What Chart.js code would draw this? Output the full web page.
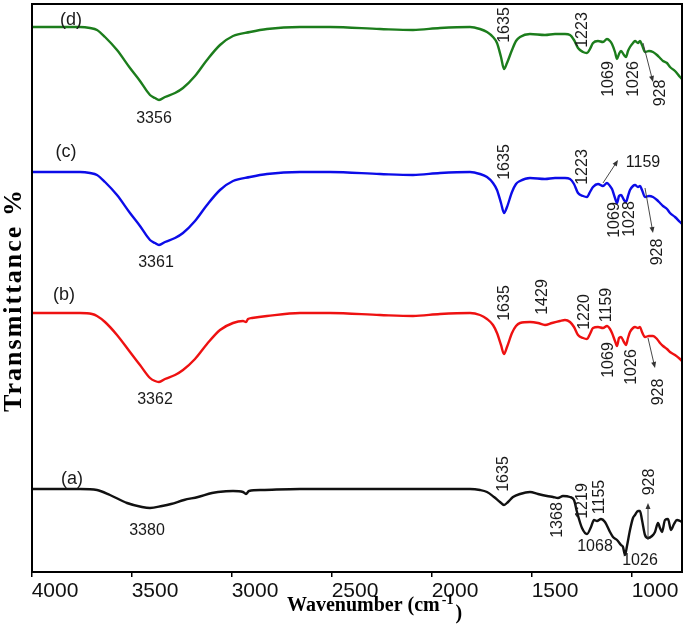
<!DOCTYPE html>
<html><head><meta charset="utf-8">
<script src="https://cdn.jsdelivr.net/npm/chart.js@4/dist/chart.umd.min.js"></script>
<style>html,body{margin:0;padding:0;background:#fff;}#wrap{width:685px;height:626px;}</style>
</head><body><div id="wrap"><canvas id="c" width="685" height="626"></canvas></div>
<script>
// ---- Data (arbitrary transmittance units, curves offset for display) ----
const tickValues = [4000, 3500, 3000, 2500, 2000, 1500, 1000];

const wnUpper = [4000,3860,3760,3710,3675,3635,3575,3510,3460,3410,3385,3365,3335,3285,3245,3185,3125,3060,2995,2910,2825,2660,2510,2260,2095,1960,1810,1760,1725,1695,1675,1655,1640,1625,1600,1580,1560,1510,1435,1385,1335,1310,1290,1270,1245,1225,1210,1195,1170,1145,1125,1110,1100,1085,1075,1065,1055,1040,1030,1020,1010,995,985,970,960,950,935,915,895,875,860,845,825,810,785,760,750];

const transD = [545,545,545,544,542,535,522,504,491,477,474,472,475,479,484,496,512,527,536,540,543,545,545,543,542,544,545,543,540,535,529,515,503,509,522,531,535,538,537,538,538,537,532,524,520,519,523,529,531,530,533,531,528,520,513,518,521,517,515,521,525,529,531,529,531,527,520,521,520,517,514,511,509,505,501,495,493];

const transC = [400,400,400,399,397,390,377,359,346,332,329,327,330,334,339,351,367,382,391,395,398,400,400,398,397,399,400,398,395,389,382,369,359,365,380,388,391,394,393,394,394,393,388,379,376,375,380,385,388,386,389,386,383,374,369,376,377,372,370,376,382,386,387,385,386,382,375,376,375,372,369,366,363,359,355,350,348];

const wnB = [4000,3860,3760,3700,3675,3635,3575,3510,3460,3410,3385,3365,3335,3285,3245,3185,3125,3060,2995,2945,2930,2920,2900,2825,2660,2510,2260,2095,1960,1810,1760,1725,1695,1675,1655,1640,1625,1600,1580,1560,1510,1470,1435,1400,1360,1335,1310,1290,1270,1245,1225,1210,1195,1170,1145,1125,1110,1100,1085,1075,1065,1055,1040,1030,1020,1010,995,985,970,960,950,935,915,895,875,860,845,825,810,785,760,750];
const transB = [259,259,259,258,256,250,237,220,207,194,191,190,193,197,202,213,228,242,249,251,250,253,254,256,259,259,257,256,258,259,257,253,247,239,227,218,225,239,246,249,250,249,247,249,251,252,250,245,237,234,233,238,244,245,244,246,243,239,231,226,234,235,230,227,234,240,244,245,244,245,240,235,236,236,233,229,226,223,220,217,213,211];

const wnA = [4000,3860,3760,3675,3610,3525,3450,3410,3350,3305,3240,3170,3100,3070,2995,2945,2930,2915,2850,2660,2510,2200,1810,1760,1725,1690,1660,1640,1620,1595,1560,1510,1470,1425,1395,1370,1345,1310,1290,1275,1250,1225,1205,1190,1175,1155,1135,1110,1095,1075,1055,1045,1035,1025,1010,995,985,970,960,950,935,920,900,885,870,860,850,835,820,805,790,775,760,750];
const transA = [83,83,83,82,77,69,65,64,66,68,72,75,79,80,81,80,78,81,82,83,83,83,83,82,80,75,70,67,70,75,78,80,78,76,75,74,76,75,72,60,44,38,45,52,51,53,50,40,35,32,27,25,17,26,42,54,57,61,61,52,37,34,36,40,49,44,40,52,53,42,48,52,51,50];

const seriesNames = ['(a)', '(b)', '(c)', '(d)'];
const seriesColors = ['#111111', '#ee1111', '#0c0ce8', '#1c7d1c'];

// peak annotations: [text, wavenumber, transmittance, rotated]
const peakLabels = [
  ['(d)',3805,552,false],['3356',3390,453,false],['1635',1635,547,true],['1223',1245,542,true],
  ['1069',1115,493,true],['1026',990,493,true],['928',855,479,true],
  ['(c)',3830,420,false],['3361',3380,309,false],['1635',1635,410,true],['1223',1245,405,true],
  ['1159',945,409,false],['1069',1085,352,true],['1028',1010,353,true],['928',870,320,true],
  ['(b)',3840,277,false],['3362',3385,172,false],['1635',1635,269,true],['1429',1445,275,true],
  ['1220',1235,260,true],['1159',1125,267,true],['1069',1115,212,true],['1026',1000,205,true],['928',865,180,true],
  ['(a)',3800,93,false],['3380',3425,41,false],['1635',1640,98,true],['1368',1370,52,true],
  ['1219',1245,71,true],['1155',1160,75,true],['1068',1185,25,false],['1026',960,11,false],['928',910,90,true]
];
// arrows: [fromWn, fromT, toWn, toT]
const arrows = [
  [945,529,895,490],
  [1145,389,1070,412],
  [935,384,895,339],
  [920,234,885,204],
  [920,32,920,69]
];

const series = [
  {name: seriesNames[3], x: wnUpper, y: transD, color: seriesColors[3]},
  {name: seriesNames[2], x: wnUpper, y: transC, color: seriesColors[2]},
  {name: seriesNames[1], x: wnB, y: transB, color: seriesColors[1]},
  {name: seriesNames[0], x: wnA, y: transA, color: seriesColors[0]}
];

const datasets = series.map(s => ({
  label: s.name,
  data: s.x.map((w, i) => ({x: w, y: s.y[i]})),
  borderColor: s.color,
  borderWidth: 2.4,
  pointRadius: 0,
  fill: false,
  cubicInterpolationMode: 'monotone'
}));

const decorPlugin = {
  id: 'decor',
  afterDatasetsDraw(chart) {
    const ctx = chart.ctx, xs = chart.scales.x, ys = chart.scales.y, a = chart.chartArea;
    ctx.save();
    // frame
    ctx.strokeStyle = '#000'; ctx.lineWidth = 2;
    ctx.strokeRect(a.left, a.top, a.right - a.left, a.bottom - a.top);
    // peak labels
    ctx.fillStyle = '#1a1a1a';
    ctx.textAlign = 'center'; ctx.textBaseline = 'middle';
    peakLabels.forEach(([t, w, v, rot]) => {
      const px = xs.getPixelForValue(w), py = ys.getPixelForValue(v);
      const isName = t.startsWith('(');
      ctx.font = (isName ? '18px' : '16px') + ' "Liberation Sans", Arial, sans-serif';
      ctx.save();
      ctx.translate(px, py);
      if (rot) ctx.rotate(-Math.PI / 2);
      ctx.fillText(t, 0, 0);
      ctx.restore();
    });
    // arrows
    ctx.strokeStyle = '#333'; ctx.fillStyle = '#333'; ctx.lineWidth = 0.9;
    arrows.forEach(([w1, v1, w2, v2]) => {
      const x1 = xs.getPixelForValue(w1), y1 = ys.getPixelForValue(v1);
      const x2 = xs.getPixelForValue(w2), y2 = ys.getPixelForValue(v2);
      const ang = Math.atan2(y2 - y1, x2 - x1), L = 6, W = 2.5;
      ctx.beginPath(); ctx.moveTo(x1, y1); ctx.lineTo(x2 - Math.cos(ang) * L * 0.7, y2 - Math.sin(ang) * L * 0.7); ctx.stroke();
      ctx.beginPath();
      ctx.moveTo(x2, y2);
      ctx.lineTo(x2 - Math.cos(ang) * L - Math.sin(ang) * W, y2 - Math.sin(ang) * L + Math.cos(ang) * W);
      ctx.lineTo(x2 - Math.cos(ang) * L + Math.sin(ang) * W, y2 - Math.sin(ang) * L - Math.cos(ang) * W);
      ctx.closePath(); ctx.fill();
    });
    // x title with superscript
    ctx.fillStyle = '#000';
    ctx.textAlign = 'left'; ctx.textBaseline = 'alphabetic';
    const f1 = 'bold 20px "Liberation Serif", "Times New Roman", serif';
    const f2 = 'bold 14px "Liberation Serif", "Times New Roman", serif';
    const t1 = 'Wavenumber (cm', t2 = '-1', t3 = ')';
    ctx.font = f1; const w1 = ctx.measureText(t1).width;
    ctx.font = f2; const w2 = ctx.measureText(t2).width;
    let x0 = a.left + 255;
    ctx.font = f1; ctx.fillText(t1, x0, 611);
    ctx.font = f2; ctx.fillText(t2, x0 + w1 + 2, 604);
    ctx.font = f1; ctx.fillText(t3, x0 + w1 + w2 + 4, 619);
    // y title
    ctx.save();
    ctx.translate(14, 300);
    ctx.rotate(-Math.PI / 2);
    ctx.font = 'bold 26px "Liberation Serif", "Times New Roman", serif';
    try { ctx.letterSpacing = '2px'; } catch (e) {}
    ctx.textAlign = 'center'; ctx.textBaseline = 'middle';
    ctx.fillText('Transmittance %', 0, 0);
    ctx.restore();
    ctx.restore();
  }
};

new Chart(document.getElementById('c'), {
  type: 'line',
  data: {datasets},
  options: {
    responsive: false,
    animation: false,
    devicePixelRatio: 1,
    layout: {padding: {left: 32, top: 4, right: 3, bottom: 0}},
    plugins: {legend: {display: false}, tooltip: {enabled: false}},
    scales: {
      x: {
        type: 'linear', reverse: true, min: 750, max: 4000,
        afterBuildTicks: s => { s.ticks = tickValues.map(v => ({value: v})); },
        afterFit: s => { s.height = 54; },
        ticks: {autoSkip: false, maxRotation: 0, labelOffset: 23, padding: 2, color: '#111',
                callback: v => String(v),
                font: {family: '"Liberation Sans", Arial, sans-serif', size: 21}},
        grid: {display: true, drawOnChartArea: false, drawTicks: true, tickLength: 5, color: '#000', lineWidth: 1.5},
        border: {display: true, color: '#000', width: 2}
      },
      y: {display: false, min: 0, max: 568}
    }
  },
  plugins: [decorPlugin]
});
</script></body></html>
